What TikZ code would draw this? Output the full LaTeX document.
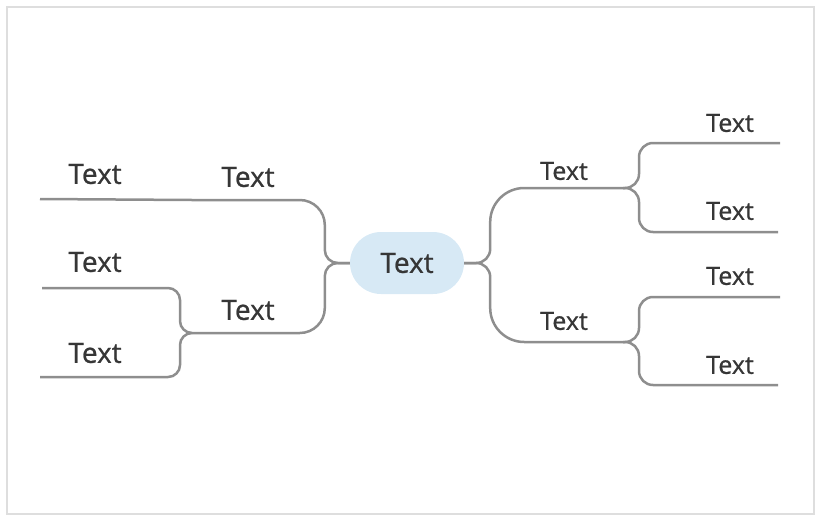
\documentclass[tikz,border=0pt]{standalone}
\usepackage{fontspec}
\setmainfont{Open Sans}[FakeBold=0.8]
\usetikzlibrary{positioning}
\definecolor{Ink}{HTML}{363636}
\definecolor{Branch}{HTML}{8E8E8E}
\definecolor{Frame}{HTML}{DEDEDE}
\definecolor{CentreFill}{HTML}{D7E9F5}

\begin{document}
\begin{tikzpicture}[x=1pt,y=-1pt,
  topic/.style={font=\fontsize{28}{30}\selectfont,text=Ink,inner sep=0pt},
  smalltopic/.style={topic,font=\fontsize{25}{27}\selectfont},
  centretopic/.style={topic,fill=CentreFill,rounded corners=31pt,minimum width=114pt,minimum height=62pt},
  branch/.style={draw=Branch,line width=2.5pt}]
\useasboundingbox (0,0) rectangle (822,522);
\draw[Frame,line width=2.5pt] (7,7) rectangle (814,514);
% central topic
\node[centretopic] (main) at (407,263) {Text};
% main topics
\node[topic] (lu) at (248,177) {Text};
\node[topic] (ll) at (248,310) {Text};
\node[smalltopic] (ru) at (564,171) {Text};
\node[smalltopic] (rl) at (564,321) {Text};
% subtopics
\node[topic] (lu1) at (95,174) {Text};
\node[topic] (ll1) at (95,262) {Text};
\node[topic] (ll2) at (95,353) {Text};
\node[smalltopic] (ru1) at (730,123) {Text};
\node[smalltopic] (ru2) at (730,211) {Text};
\node[smalltopic] (rl1) at (730,276) {Text};
\node[smalltopic] (rl2) at (730,365) {Text};
% line ends
\coordinate (lu-end) at (192,200);
\coordinate (ll-end) at (192,333);
\coordinate (ru-end) at (623,188);
\coordinate (rl-end) at (623,342);
\coordinate (lu1-end) at (40,199);
\coordinate (ll1-end) at (42,288);
\coordinate (ll2-end) at (40,377);
\coordinate (ru1-end) at (780,143);
\coordinate (ru2-end) at (778,232);
\coordinate (rl1-end) at (780,297);
\coordinate (rl2-end) at (778,385);
% branches
\draw[branch] (main.west) [rounded corners=13pt] -- ++(-25,0) [rounded corners=25pt] |- (lu-end);
\draw[branch] (main.west) [rounded corners=13pt] -- ++(-25,0) [rounded corners=25pt] |- (ll-end);
\draw[branch] (main.east) [rounded corners=14pt] -- ++(26,0) [rounded corners=34pt] |- (ru-end);
\draw[branch] (main.east) [rounded corners=14pt] -- ++(26,0) [rounded corners=34pt] |- (rl-end);
\draw[branch] (lu-end) -- (lu1-end);
\draw[branch,rounded corners=12pt] (ll-end) -- ++(-12,0) |- (ll1-end);
\draw[branch,rounded corners=12pt] (ll-end) -- ++(-12,0) |- (ll2-end);
\draw[branch,rounded corners=14pt] (ru-end) -- ++(16,0) |- (ru1-end);
\draw[branch,rounded corners=14pt] (ru-end) -- ++(16,0) |- (ru2-end);
\draw[branch,rounded corners=14pt] (rl-end) -- ++(16,0) |- (rl1-end);
\draw[branch,rounded corners=14pt] (rl-end) -- ++(16,0) |- (rl2-end);
\end{tikzpicture}
\end{document}
